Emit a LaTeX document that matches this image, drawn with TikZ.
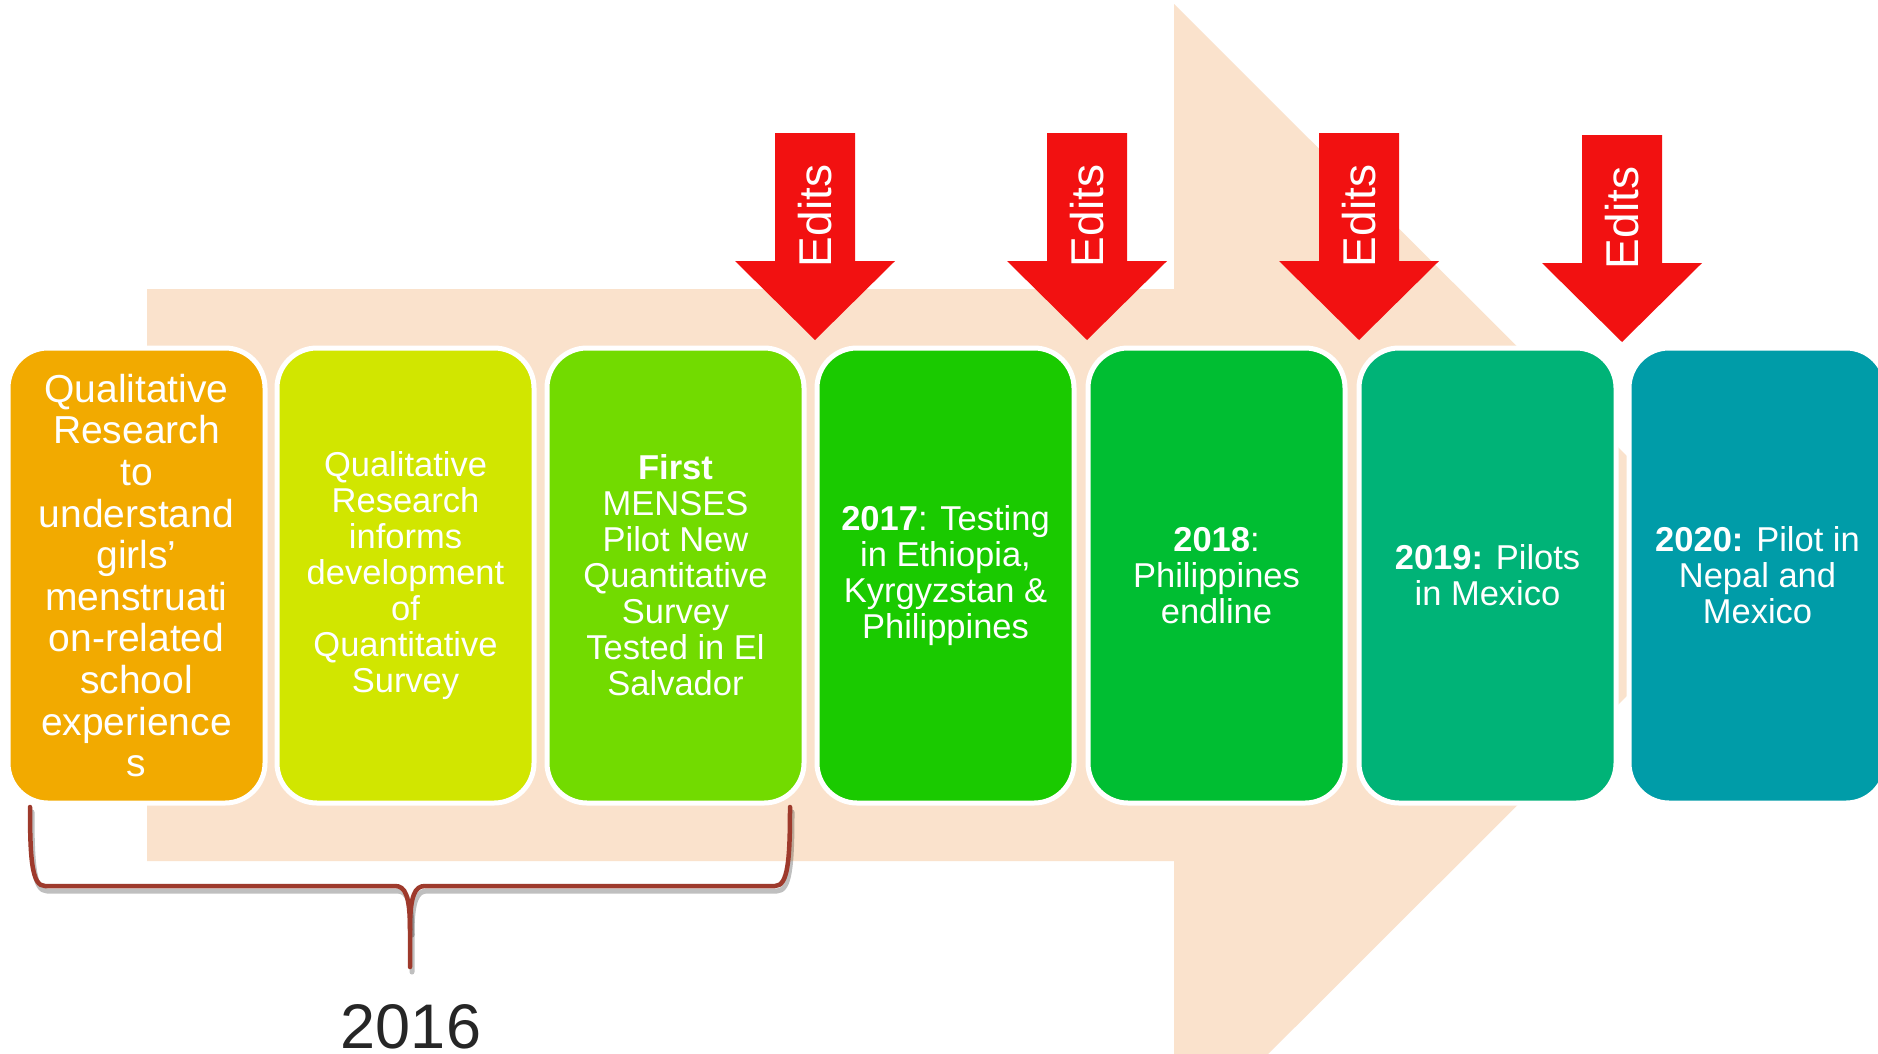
\documentclass[tikz,border=0pt]{standalone}
\usepackage{fontspec}
\setmainfont{Liberation Sans}
\definecolor{peach}{RGB}{250,226,204}
\definecolor{editred}{RGB}{242,17,17}
\definecolor{bA}{RGB}{242,170,0}
\definecolor{bB}{RGB}{209,230,0}
\definecolor{bC}{RGB}{114,219,0}
\definecolor{bD}{RGB}{26,202,0}
\definecolor{bE}{RGB}{0,190,50}
\definecolor{bF}{RGB}{0,179,119}
\definecolor{bG}{RGB}{0,156,168}
\definecolor{bracecol}{RGB}{158,58,44}
\definecolor{yeartext}{RGB}{38,38,38}
\begin{document}
\begin{tikzpicture}[x=1pt,y=-1pt,
  box/.style={draw=white, line width=5pt, rounded corners=40pt,
    minimum width=257pt, minimum height=455pt, inner sep=6pt, outer sep=0pt,
    anchor=north west, align=center, text=white,
    font=\fontsize{34.5}{36}\selectfont},
  bigbox/.style={box, font=\fontsize{39}{41.6}\selectfont},
  editlabel/.style={rotate=90, text=white, inner sep=0pt,
    font=\fontsize{46}{46}\selectfont},
  bracestroke/.style={draw=bracecol, line width=4.5pt, line cap=round, line join=round},
  braceshadow/.style={draw=black, opacity=0.25, line width=5pt, line cap=round, line join=round}
]
\clip (0,0) rectangle (1878,1053);
\fill[white] (0,0) rectangle (1878,1053);
% big background arrow
\fill[peach] (147,289) -- (1174,289) -- (1174,4) -- (1747,576) -- (1174,1148)
  -- (1174,861) -- (147,861) -- cycle;
% boxes
\node[bigbox, fill=bA] (b1) at (8,348) {Qualitative\\Research\\to\\understand\\girls’\\menstruati\\on-related\\school\\experience\\s};
\node[box, fill=bB] (b2) at (277,348) {Qualitative\\Research\\informs\\development\\of\\Quantitative\\Survey};
\node[box, fill=bC] (b3) at (547,348) {\textbf{First}\\MENSES\\Pilot New\\Quantitative\\Survey\\Tested in El\\Salvador};
\node[box, fill=bD] (b4) at (817,348) {\textbf{2017}: Testing\\in Ethiopia,\\Kyrgyzstan \&\\Philippines};
\node[box, fill=bE] (b5) at (1088,348) {\textbf{2018}:\\Philippines\\endline};
\node[box, fill=bF] (b6) at (1359,348) {\textbf{2019:} Pilots\\in Mexico};
\node[box, fill=bG] (b7) at (1629,348) {\textbf{2020:} Pilot in\\Nepal and\\Mexico};
% red edit arrows
\foreach \cx/\i/\dy in {815/1/0, 1087/2/0, 1359/3/0, 1622/4/2} {
  \fill[editred] (\cx-40,133+\dy) -- (\cx+40,133+\dy) -- (\cx+40,261+\dy)
    -- (\cx+80,261+\dy) -- (\cx,340+\dy) -- (\cx-80,261+\dy)
    -- (\cx-40,261+\dy) -- cycle;
  \node[editlabel] (e\i) at (\cx,216+\dy) {Edits};
}
% brace
\coordinate (brL) at (30,807);
\coordinate (brR) at (790,807);
\coordinate (brC) at (410,967);
\begin{scope}[shift={(2,5)}]
  \draw[braceshadow] (30,807) .. controls (30,860) and (32,886) .. (45,886) -- (395,886)
    .. controls (405,886) and (410,895) .. (410,930) -- (410,967);
  \draw[braceshadow] (790,807) .. controls (790,860) and (788,886) .. (775,886) -- (425,886)
    .. controls (415,886) and (410,895) .. (410,930);
\end{scope}
\draw[bracestroke] (brL) .. controls (30,860) and (32,886) .. (45,886) -- (395,886)
  .. controls (405,886) and (410,895) .. (410,930) -- (brC);
\draw[bracestroke] (brR) .. controls (790,860) and (788,886) .. (775,886) -- (425,886)
  .. controls (415,886) and (410,895) .. (410,930);
\node[anchor=base, text=yeartext, inner sep=0pt,
  font=\fontsize{63}{63}\selectfont] (year) at (411,1048) {2016};
\end{tikzpicture}
\end{document}
